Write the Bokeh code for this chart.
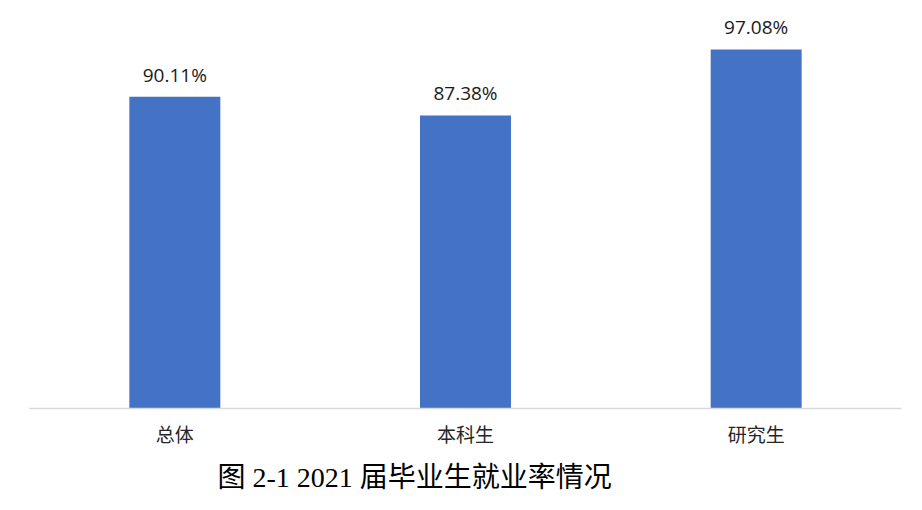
from bokeh.plotting import figure
from bokeh.models import ColumnDataSource, FactorRange, Range1d, Title
from bokeh.core.properties import value
from bokeh.embed import file_html
from bokeh.resources import INLINE

categories = ["总体", "本科生", "研究生"]
rates = [90.11, 87.38, 97.08]
rate_labels = ["90.11%", "87.38%", "97.08%"]
caption = "图 2-1 2021 届毕业生就业率情况"

src = ColumnDataSource(dict(cat=categories, rate=rates, lab=rate_labels))

p = figure(width=906, height=504, x_range=FactorRange(*categories, range_padding=0),
           y_range=Range1d(44.3, 103.1), output_backend="svg", toolbar_location=None,
           y_axis_location=None, min_border_left=29, min_border_right=5,
           min_border_top=8, min_border_bottom=96)
p.outline_line_color = None
p.xgrid.grid_line_color = None
p.ygrid.grid_line_color = None

p.vbar(x="cat", top="rate", bottom=44.3, width=0.313, source=src,
       fill_color="#4472C4", line_color=None)
p.text(x="cat", y="rate", text="lab", source=src, y_offset=-22,
       text_align="center", text_baseline="alphabetic",
       text_font=value("Open Sans"), text_font_size="19px", text_color="#1a1a1a")

ax = p.xaxis[0]
ax.axis_line_color = "#d9d9d9"
ax.axis_line_width = 1.5
ax.major_tick_line_color = None
ax.minor_tick_line_color = None
ax.major_tick_out = 0
ax.major_tick_in = 0
ax.major_label_standoff = 11
ax.major_label_text_font = "Noto Sans CJK SC"
ax.major_label_text_font_size = "19px"
ax.major_label_text_color = "#262626"

cap = Title(text=caption, align="left", offset=188, standoff=21,
            text_font="Liberation Serif, Noto Sans CJK SC", text_font_size="28px",
            text_font_style="normal", text_color="#000000")
p.add_layout(cap, "below")

open("out.html", "w").write(file_html(p, INLINE))
